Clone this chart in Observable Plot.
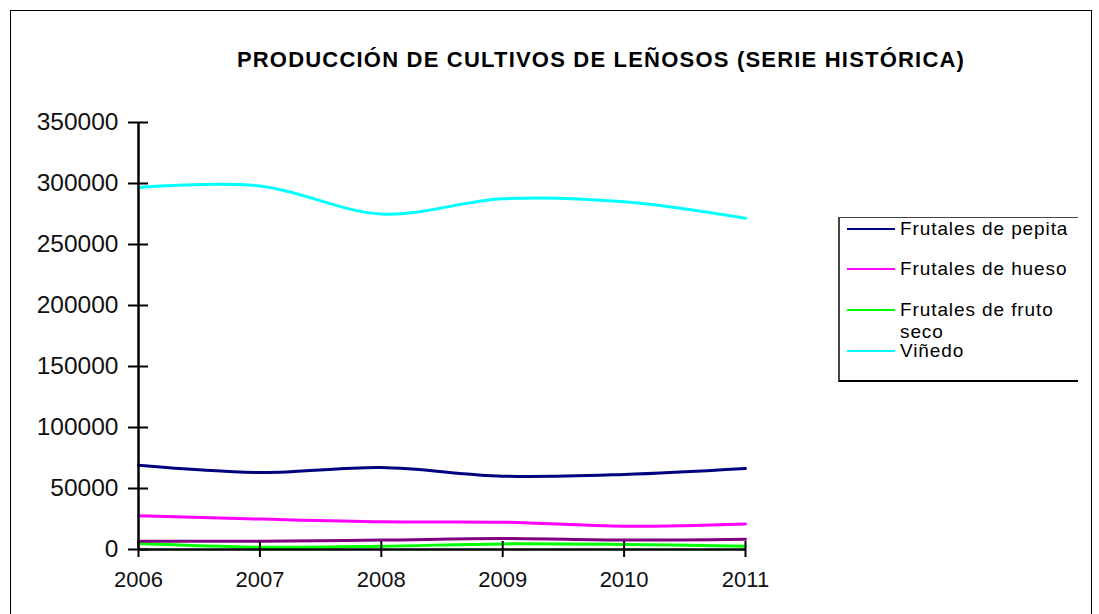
<!DOCTYPE html>
<html>
<head>
<meta charset="utf-8">
<script src="https://cdn.jsdelivr.net/npm/d3@7"></script>
<script src="https://cdn.jsdelivr.net/npm/@observablehq/plot@0.6"></script>
<style>
  html, body { margin: 0; padding: 0; background: #fff; overflow: hidden; }
  #wrap { position: relative; width: 1099px; height: 614px; font-family: "Liberation Sans", Arial, sans-serif; }
  #frame { position: absolute; left: 10px; top: 10px; width: 1082px; height: 640px; border: 1px solid #000; box-sizing: border-box; }
  #title { position: absolute; left: 0; width: 1202px; top: 47px; text-align: center; font-weight: bold; font-size: 22px; letter-spacing: 1.2px; line-height: 26px; color: #000; white-space: nowrap; }
  #chart { position: absolute; left: 0; top: 0; }
  #legend { position: absolute; left: 838px; top: 217px; width: 240px; height: 165px; border-left: 2px solid #444; border-top: 1px solid #444; border-bottom: 2px solid #000; box-sizing: border-box; }
  .item { position: absolute; left: 0; font-size: 19px; letter-spacing: 0.9px; color: #000; line-height: 22px; }
  .item .sw { position: absolute; left: 7px; width: 48px; height: 2px; }
  .item .tx { position: absolute; left: 60px; white-space: nowrap; }
</style>
</head>
<body>
<div id="wrap">
  <div id="frame"></div>
  <div id="title"></div>
  <div id="chart"></div>
  <div id="legend"></div>
</div>
<script>
const title = "PRODUCCIÓN DE CULTIVOS DE LEÑOSOS (SERIE HISTÓRICA)";
const years = [2006, 2007, 2008, 2009, 2010, 2011];
const yTicks = [0, 50000, 100000, 150000, 200000, 250000, 300000, 350000];
const seriesNames = ["Frutales de pepita", "Frutales de hueso", "Frutales de fruto seco", "Viñedo", "Otros"];
const seriesColors = ["#000080", "#FF00FF", "#00FF00", "#00FFFF", "#800080"];
const legendNames = ["Frutales de pepita", "Frutales de hueso", "Frutales de fruto seco", "Viñedo"];
const pepita = [69000, 63100, 67200, 60100, 61500, 66400];
const hueso = [27600, 24900, 22700, 22400, 19100, 21000];
const frutoSeco = [4900, 1900, 2700, 4600, 4100, 2700];
const vinedo = [296700, 298000, 275000, 287500, 285000, 271500];
const otros = [6800, 6800, 7700, 9000, 7700, 8500];

const seriesValues = [pepita, hueso, frutoSeco, vinedo, otros];
const data = [];
seriesNames.forEach((s, i) => years.forEach((yr, j) => data.push({serie: s, year: yr, value: seriesValues[i][j]})));
const drawOrder = ["Frutales de fruto seco", "Otros", "Frutales de hueso", "Frutales de pepita", "Viñedo"];
data.sort((a, b) => drawOrder.indexOf(a.serie) - drawOrder.indexOf(b.serie));

document.getElementById("title").textContent = title;

const fontFam = "Liberation Sans, Arial, sans-serif";
const chart = Plot.plot({
  width: 1099,
  height: 614,
  marginLeft: 138,
  marginRight: 354,
  marginTop: 122,
  marginBottom: 65,
  style: {fontFamily: fontFam, background: "transparent", overflow: "visible"},
  x: {domain: [2006, 2011], ticks: years},
  y: {domain: [0, 350000], ticks: yTicks},
  color: {domain: seriesNames, range: seriesColors},
  marks: [
    Plot.line(data, {x: "year", y: "value", z: "serie", stroke: "serie", strokeWidth: 3, curve: "catmull-rom"}),
    Plot.ruleX([2006], {stroke: "#000", strokeWidth: 2.5}),
    Plot.ruleY([0], {stroke: "#000", strokeWidth: 2.5}),
    Plot.axisY(yTicks, {anchor: "left", tickSize: 10, tickPadding: 10, strokeWidth: 2, fontSize: 24.5, fill: "#111", tickFormat: d => String(d), label: null}),
    Plot.axisY(yTicks, {anchor: "left", tickSize: 10, dx: 10, strokeWidth: 2, tickFormat: () => "", label: null}),
    Plot.axisX(years, {anchor: "bottom", tickSize: 8, tickPadding: 14, strokeWidth: 2, fontSize: 22, fill: "#111", tickFormat: d => String(d), label: null}),
    Plot.axisX(years, {anchor: "bottom", tickSize: 8, dy: -8, strokeWidth: 2, tickFormat: () => "", label: null})
  ]
});
document.getElementById("chart").appendChild(chart);

const legend = document.getElementById("legend");
const tops = [0, 40, 81, 122];
legendNames.forEach((name, i) => {
  const it = document.createElement("div");
  it.className = "item";
  it.style.top = tops[i] + "px";
  const sw = document.createElement("div");
  sw.className = "sw";
  sw.style.top = "10px";
  sw.style.background = seriesColors[seriesNames.indexOf(name)];
  const tx = document.createElement("div");
  tx.className = "tx";
  if (name === "Frutales de fruto seco") {
    tx.innerHTML = "Frutales de fruto<br>seco";
  } else {
    tx.textContent = name;
  }
  it.appendChild(sw);
  it.appendChild(tx);
  legend.appendChild(it);
});
</script>
</body>
</html>
